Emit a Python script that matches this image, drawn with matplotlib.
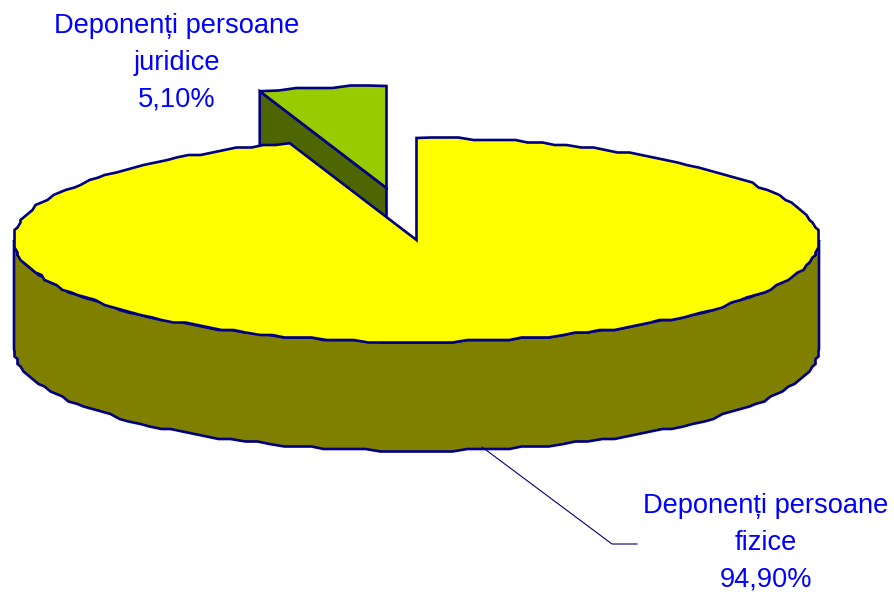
import matplotlib
matplotlib.use("Agg")
import matplotlib.pyplot as plt
import numpy as np

# chart data
labels = ["Deponenți persoane\nfizice\n94,90%", "Deponenți persoane\njuridice\n5,10%"]
shares = [94.9, 5.1]

# pie geometry, in pixels of the picture
cx, cy = 416.5, 240
rx, ry = 402.5, 102
depth = 109
explode = (-30, -52)
navy = "#000080"


def rim(t0, t1, n):
    # t is measured from 12 o'clock going counter clockwise
    t = np.radians(np.linspace(t0, t1, n))
    x, y = -rx * np.sin(t), -ry * np.cos(t)
    # the original outline is stepped, snap to a coarse grid but keep the ends
    x[1:-1] = np.clip(np.round(x[1:-1] / 3) * 3, -rx, rx)
    y[1:-1] = np.round(y[1:-1] / 2.5) * 2.5
    return x, y


plt.rcParams["font.family"] = ["Liberation Sans", "DejaVu Sans"]
fig = plt.figure(figsize=(8.95, 5.92), dpi=100)
ax = fig.add_axes([0, 0, 1, 1])
ax.set_xlim(0, 895)
ax.set_ylim(592, 0)
ax.axis("off")

small_angle = shares[1] / sum(shares) * 360

# exploded small slice: side wall first, then the top
sx, sy = rim(0, small_angle, 8)
ox, oy = cx + explode[0], cy + explode[1]
ax.fill([ox, ox + sx[-1], ox + sx[-1], ox], [oy, oy + sy[-1], oy + sy[-1] + depth, oy + depth],
        fc="#4D6600", ec=navy, lw=1.9, zorder=1)
ax.fill(np.r_[ox, ox + sx], np.r_[oy, oy + sy], fc="#99CC00", ec=navy, lw=1.9, zorder=2)

# big slice: front wall, then the top
wx, wy = rim(90, 270, 90)
ax.fill(np.r_[cx + wx, cx + wx[::-1]], np.r_[cy + wy, cy + wy[::-1] + depth],
        fc="#808000", ec=navy, lw=1.9, zorder=3)
bx, by = rim(small_angle, 360, 171)
ax.fill(np.r_[cx, cx + bx], np.r_[cy, cy + by], fc="#FFFF00", ec=navy, lw=1.9, zorder=4)

# leader line of the big slice
ax.plot([482, 612, 637], [447, 544, 544], color=navy, lw=0.8, zorder=5)

ax.text(177, 63, labels[1], color="#0000FF", fontsize=19.6, ha="center", va="center", linespacing=1.54)
ax.text(766, 543, labels[0], color="#0000FF", fontsize=19.6, ha="center", va="center", linespacing=1.54)

plt.savefig("out.png", dpi=100)
plt.close()
